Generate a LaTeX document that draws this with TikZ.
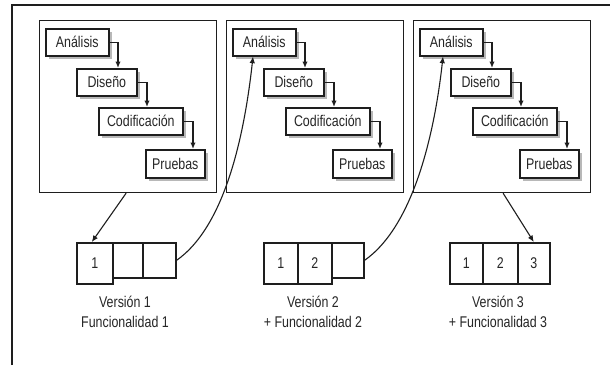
\documentclass[tikz,border=0pt]{standalone}
\usepackage{fontspec}
\setmainfont{Liberation Sans}[FakeStretch=0.8]
\usetikzlibrary{shadows,arrows.meta}
\definecolor{ink}{HTML}{1E1E1E}
\definecolor{txt}{HTML}{262626}
\begin{document}
\begin{tikzpicture}[x=1pt,y=-1pt,
  frame/.style={draw=ink, line width=1.2pt},
  panel/.style={draw=ink, line width=1.2pt, minimum width=177pt, minimum height=172pt, anchor=north west, inner sep=0pt},
  stage/.style={draw=ink, line width=1.6pt, fill=white, anchor=north west, inner sep=0pt, minimum height=27pt,
    font=\fontsize{15.5}{17}\selectfont, text=txt,
    drop shadow={shadow xshift=3pt, shadow yshift=-3pt, fill=black, opacity=0.28}},
  conn/.style={draw=ink, line width=1.3pt, -{Latex[length=6.5pt,width=5.5pt]}},
  link/.style={draw=ink, line width=1.1pt, -{Latex[length=6.5pt,width=5.5pt]}},
  cell/.style={draw=ink, line width=1.6pt, anchor=north west, inner sep=0pt, font=\fontsize{15.5}{17}\selectfont, text=txt},
  tall/.style={cell, minimum height=41pt},
  short/.style={cell, minimum height=35pt},
  caption/.style={align=center, font=\fontsize{15.5}{20}\selectfont, text=txt}
]
\useasboundingbox (0,0) rectangle (610,365);
\fill[white] (0,0) rectangle (610,365);
\draw[frame] (12,365) -- (12,5) -- (610,5);

\foreach \i/\L in {1/39,2/226,3/413}{
  \node[panel] (pan\i) at (\L,20) {};
  \node[stage, minimum width=63pt] (a\i) at (\L+6,28) {Análisis};
  \node[stage, minimum width=60pt] (d\i) at (\L+37,68) {Diseño};
  \node[stage, minimum width=84pt] (c\i) at (\L+59,107) {Codificación};
  \node[stage, minimum width=59pt, minimum height=28pt] (p\i) at (\L+106,149) {Pruebas};
  \draw[conn] (a\i.east) -| ([xshift=42pt]d\i.north west);
  \draw[conn] (d\i.east) -| ([xshift=49pt]c\i.north west);
  \draw[conn] (c\i.east) -| ([xshift=48pt]p\i.north west);
}

% Version 1
\node[tall, minimum width=36pt] (v1a) at (76,242) {1};
\node[short, minimum width=30pt] (v1b) at (112,242) {};
\node[short, minimum width=33pt] (v1c) at (142,242) {};
% Version 2
\node[tall, minimum width=34pt] (v2a) at (263,242) {1};
\node[tall, minimum width=34pt] (v2b) at (297,242) {2};
\node[short, minimum width=32pt] (v2c) at (331,242) {};
% Version 3
\node[tall, minimum width=33pt] (v3a) at (449,242) {1};
\node[tall, minimum width=35pt] (v3b) at (482,242) {2};
\node[tall, minimum width=32pt] (v3c) at (517,242) {3};

\node[caption] (t1) at (125,312) {Versión 1\\Funcionalidad 1};
\node[caption] (t2) at (313,312) {Versión 2\\+ Funcionalidad 2};
\node[caption] (t3) at (498,312) {Versión 3\\+ Funcionalidad 3};

\draw[link] ([xshift=-2pt]pan1.south) -- ([xshift=-3pt]v1a.north);
\draw[link] ([xshift=1pt]pan3.south) -- (v3c.north);
\draw[link] (v1c.east) .. controls +(50,-35) and +(-8,73) .. ([xshift=21pt]a2.south west);
\draw[link] (v2c.east) .. controls +(50,-35) and +(-8,73) .. ([xshift=24pt]a3.south west);
\end{tikzpicture}
\end{document}
